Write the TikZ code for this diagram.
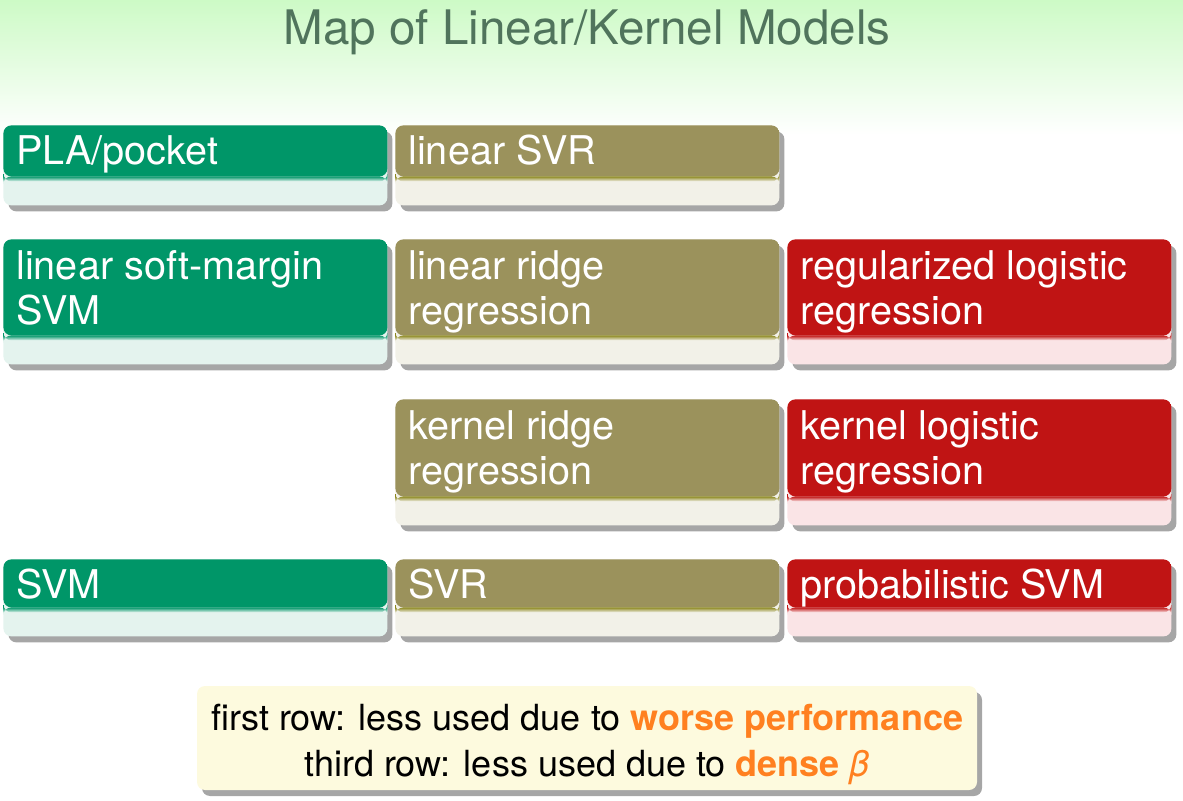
\documentclass[tikz,border=0pt]{standalone}
\usepackage{fontspec}
\setmainfont{TeX Gyre Heros}
\usetikzlibrary{shadows}
\definecolor{bgG}{RGB}{205,250,198}
\definecolor{titleC}{RGB}{80,116,92}
\definecolor{grnH}{RGB}{0,150,104}
\definecolor{grnB}{RGB}{228,243,238}
\definecolor{oliH}{RGB}{155,146,92}
\definecolor{oliB}{RGB}{242,241,232}
\definecolor{oliL}{RGB}{140,135,30}
\definecolor{redH}{RGB}{192,20,20}
\definecolor{redB}{RGB}{250,228,230}
\definecolor{noteC}{RGB}{253,250,222}
\definecolor{hiC}{RGB}{255,128,32}
\tikzset{
  blk/.style n args={3}{draw=none, fill=#2, rounded corners=4pt, anchor=north west,
    minimum width=192pt, inner sep=0pt,
    drop shadow={shadow xshift=2.5pt, shadow yshift=-3pt, fill=black, opacity=.35},
    path picture={
      \fill[#1] (path picture bounding box.north west) rectangle ([yshift=14.5pt]path picture bounding box.south east);
      \shade[top color=#3, bottom color=#2] ([yshift=14.5pt]path picture bounding box.south west) rectangle ([yshift=12pt]path picture bounding box.south east);}},
  grn/.style={blk={grnH}{grnB}{grnH}},
  oli/.style={blk={oliH}{oliB}{oliL}},
  rd/.style={blk={redH}{redB}{redH}},
  blktext/.style={anchor=base west, inner sep=0pt, text=white, align=left,
    font=\fontsize{19.8}{22.5}\selectfont},
}
\begin{document}
\begin{tikzpicture}[x=0.5pt,y=-0.5pt]
\useasboundingbox (0,0) rectangle (1183,801);
\shade[top color=bgG, bottom color=white] (0,0) rectangle (1183,135);
\node[anchor=base, inner sep=0pt, text=titleC, font=\fontsize{23.8}{26}\selectfont] (title) at (587,45) {Map of Linear/Kernel Models};
% first row
\node[grn, minimum height=40pt] (pla) at (3,125) {};
\node[blktext] (plaT) at ([xshift=6.5pt,yshift=-20pt]pla.north west) {PLA/pocket};
\node[oli, minimum height=40pt] (linsvr) at (395,125) {};
\node[blktext] (linsvrT) at ([xshift=6.5pt,yshift=-20pt]linsvr.north west) {linear SVR};
% second row (base = last line)
\node[grn, minimum height=62.5pt] (linsvm) at (3,239) {};
\node[blktext] (linsvmT) at ([xshift=6.5pt,yshift=-43pt]linsvm.north west) {linear soft-margin\\SVM};
\node[oli, minimum height=62.5pt] (linridge) at (395,239) {};
\node[blktext] (linridgeT) at ([xshift=6.5pt,yshift=-43pt]linridge.north west) {linear ridge\\regression};
\node[rd, minimum height=62.5pt] (reglog) at (787,239) {};
\node[blktext] (reglogT) at ([xshift=6.5pt,yshift=-43pt]reglog.north west) {regularized logistic\\regression};
% third row
\node[oli, minimum height=63pt] (kridge) at (395,399) {};
\node[blktext] (kridgeT) at ([xshift=6.5pt,yshift=-43pt]kridge.north west) {kernel ridge\\regression};
\node[rd, minimum height=63pt] (klog) at (787,399) {};
\node[blktext] (klogT) at ([xshift=6.5pt,yshift=-43pt]klog.north west) {kernel logistic\\regression};
% fourth row
\node[grn, minimum height=38.5pt] (svm) at (3,559) {};
\node[blktext] (svmT) at ([xshift=6.5pt,yshift=-19.5pt]svm.north west) {SVM};
\node[oli, minimum height=38.5pt] (svr) at (395,559) {};
\node[blktext] (svrT) at ([xshift=6.5pt,yshift=-19.5pt]svr.north west) {SVR};
\node[rd, minimum height=38.5pt] (psvm) at (787,559) {};
\node[blktext] (psvmT) at ([xshift=6.5pt,yshift=-19.5pt]psvm.north west) {probabilistic SVM};
% note
\node[fill=noteC, rounded corners=4pt, minimum width=390pt, minimum height=52pt, inner sep=0pt,
  drop shadow={shadow xshift=2.5pt, shadow yshift=-3pt, fill=black, opacity=.35}] (note) at (587,738) {};
\node[anchor=base, inner sep=0pt, align=center, font=\fontsize{18}{23}\selectfont] (noteT) at (587,776)
  {first row: less used due to \textbf{\color{hiC}worse performance}\\
   third row: less used due to {\color{hiC}\textbf{dense} \textit{β}}};
\end{tikzpicture}
\end{document}
